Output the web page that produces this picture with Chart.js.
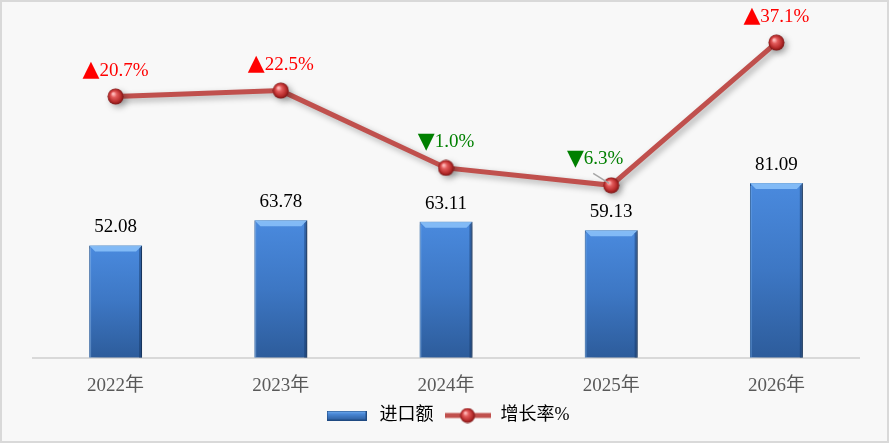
<!DOCTYPE html>
<html>
<head>
<meta charset="utf-8">
<script src="https://cdn.jsdelivr.net/npm/chart.js@4.4.1/dist/chart.umd.min.js"></script>
<style>
  html, body { margin: 0; padding: 0; background: #f8f8f8; }
  #wrap { width: 889px; height: 443px; }
</style>
</head>
<body>
<div id="wrap"><canvas id="chart" width="889" height="443"></canvas></div>
<script>
const years = ["2022年", "2023年", "2024年", "2025年", "2026年"];
const importValues = [52.08, 63.78, 63.11, 59.13, 81.09];
const growthRates = [20.7, 22.5, -1.0, -6.3, 37.1];
const seriesNames = ["进口额", "增长率%"];

const SERIF = '"Times New Roman", "Liberation Serif", "Noto Sans CJK SC", serif';
const LINE_RED = "#c0504d";

// little red ball used as the point marker
function drawSphere(c, cx, cy, r) {
  const g = c.createRadialGradient(cx - r * 0.3, cy - r * 0.35, r * 0.1, cx, cy, r);
  g.addColorStop(0, "#ffb8b8");
  g.addColorStop(0.3, "#e25b5b");
  g.addColorStop(0.75, "#b52a2a");
  g.addColorStop(1, "#7a1515");
  c.fillStyle = g;
  c.beginPath();
  c.arc(cx, cy, r, 0, Math.PI * 2);
  c.fill();
}

function makeSphere(d) {
  const cv = document.createElement("canvas");
  cv.width = d; cv.height = d;
  drawSphere(cv.getContext("2d"), d / 2, d / 2, d / 2 - 0.5);
  return cv;
}

function makeLegendBar() {
  const cv = document.createElement("canvas");
  cv.width = 40; cv.height = 10;
  const c = cv.getContext("2d");
  const g = c.createLinearGradient(0, 0, 0, 10);
  g.addColorStop(0, "#7db6f2");
  g.addColorStop(0.35, "#4a88d6");
  g.addColorStop(1, "#2c5c9c");
  c.fillStyle = g;
  c.fillRect(0, 0, 40, 10);
  c.strokeStyle = "#1f4a82";
  c.lineWidth = 1;
  c.strokeRect(0.5, 0.5, 39, 9);
  return cv;
}

function makeLegendLine() {
  const cv = document.createElement("canvas");
  cv.width = 46; cv.height = 16;
  const c = cv.getContext("2d");
  c.strokeStyle = LINE_RED;
  c.lineWidth = 5;
  c.beginPath();
  c.moveTo(0, 8); c.lineTo(46, 8);
  c.stroke();
  drawSphere(c, 23, 8, 7.5);
  return cv;
}

const sphere = makeSphere(17);
const legendBar = makeLegendBar();
const legendLine = makeLegendLine();

const backdrop = {
  id: "backdrop",
  beforeDraw(chart) {
    const c = chart.ctx;
    c.save();
    c.fillStyle = "#f8f8f8";
    c.fillRect(0, 0, chart.width, chart.height);
    c.strokeStyle = "#d9d9d9";
    c.lineWidth = 2;
    c.strokeRect(1, 1, chart.width - 2, chart.height - 2);
    c.restore();
  }
};

// drop shadows for bars and line, plus a bevel on top of the bars
const shading = {
  id: "shading",
  beforeDatasetDraw(chart, args) {
    const c = chart.ctx;
    c.save();
    if (args.index === 0) {
      c.shadowColor = "rgba(0,0,0,0.4)";
      c.shadowBlur = 9;
      c.shadowOffsetX = 6;
      c.shadowOffsetY = 1;
    } else {
      c.shadowColor = "rgba(0,0,0,0.3)";
      c.shadowBlur = 6;
      c.shadowOffsetX = 3;
      c.shadowOffsetY = 3;
    }
  },
  afterDatasetDraw(chart, args) {
    const c = chart.ctx;
    c.restore();
    if (args.index !== 0) return;
    c.save();
    args.meta.data.forEach((bar) => {
      const l = bar.x - bar.width / 2, r = bar.x + bar.width / 2;
      const t = bar.y, b = bar.base, bv = 6;
      c.fillStyle = "rgba(140,195,250,0.85)";
      c.beginPath();
      c.moveTo(l, t); c.lineTo(r, t); c.lineTo(r - bv, t + bv); c.lineTo(l + bv, t + bv);
      c.closePath(); c.fill();
      c.fillStyle = "rgba(20,50,95,0.45)";
      c.beginPath();
      c.moveTo(r, t); c.lineTo(r, b); c.lineTo(r - 3, b); c.lineTo(r - 3, t + 3);
      c.closePath(); c.fill();
      c.fillStyle = "rgba(120,175,235,0.35)";
      c.fillRect(l, t + 3, 2, b - t - 3);
    });
    c.restore();
  }
};

const valueLabels = {
  id: "valueLabels",
  afterDatasetsDraw(chart) {
    const c = chart.ctx;
    const numFont = "19px " + SERIF;
    const triFont = '22px "DejaVu Sans", sans-serif';
    c.save();
    c.textBaseline = "middle";
    c.textAlign = "center";
    c.font = numFont;
    c.fillStyle = "#000";
    chart.getDatasetMeta(0).data.forEach((bar, i) => {
      c.fillText(importValues[i].toFixed(2), bar.x, bar.y - 18);
    });
    c.textAlign = "left";
    const nudge = { 3: -16 };
    chart.getDatasetMeta(1).data.forEach((pt, i) => {
      const v = growthRates[i];
      const up = v >= 0;
      const dx = nudge[i] || 0;
      const lx = pt.x + dx, ly = pt.y - 26;
      if (dx) {
        c.strokeStyle = "#a6a6a6";
        c.lineWidth = 1.5;
        c.beginPath();
        c.moveTo(lx - 2, ly + 14);
        c.lineTo(pt.x - 2, pt.y - 2);
        c.stroke();
      }
      const tri = up ? "▲" : "▼";
      const num = Math.abs(v).toFixed(1) + "%";
      c.font = triFont;
      const tw = c.measureText(tri).width;
      c.font = numFont;
      const nw = c.measureText(num).width;
      const x0 = lx - (tw + nw) / 2;
      c.fillStyle = up ? "#ff0000" : "#008000";
      c.font = triFont;
      c.fillText(tri, x0, ly);
      c.font = numFont;
      c.fillText(num, x0 + tw, ly);
    });
    c.restore();
  }
};

new Chart(document.getElementById("chart"), {
  data: {
    labels: years,
    datasets: [
      {
        type: "bar",
        label: seriesNames[0],
        data: importValues,
        yAxisID: "y",
        order: 1,
        barPercentage: 0.32,
        categoryPercentage: 1,
        borderColor: "#1f4a82",
        borderWidth: 1,
        backgroundColor(ctx) {
          const chart = ctx.chart;
          if (!chart.chartArea || ctx.raw == null) return "#3f7bc8";
          const top = chart.scales.y.getPixelForValue(ctx.raw);
          const g = chart.ctx.createLinearGradient(0, top, 0, chart.chartArea.bottom);
          g.addColorStop(0, "#4a8ade");
          g.addColorStop(0.5, "#3d77c4");
          g.addColorStop(1, "#2d5c9b");
          return g;
        }
      },
      {
        type: "line",
        label: seriesNames[1],
        data: growthRates,
        yAxisID: "y2",
        order: 0,
        borderColor: LINE_RED,
        borderWidth: 5,
        tension: 0,
        pointStyle: sphere,
        pointRadius: 8,
        pointHoverRadius: 8
      }
    ]
  },
  options: {
    responsive: false,
    animation: false,
    devicePixelRatio: 1,
    layout: { padding: { top: 10, left: 33, right: 30, bottom: 8.5 } },
    scales: {
      x: {
        grid: { display: false, drawTicks: false },
        border: { display: true, color: "#d9d9d9", width: 2 },
        ticks: { color: "#595959", font: { family: SERIF, size: 19 }, padding: 16.5, maxRotation: 0, autoSkip: false },
        afterFit(scale) { scale.height = 38.8; }
      },
      y: { display: false, min: 0, max: 160 },
      y2: { display: false, position: "right", min: -58.7, max: 46.1 }
    },
    plugins: {
      tooltip: { enabled: false },
      legend: {
        position: "bottom",
        labels: {
          usePointStyle: true,
          pointStyleWidth: 48,
          padding: 10,
          color: "#000",
          font: { family: SERIF, size: 18 },
          generateLabels: () => [
            { text: seriesNames[0], pointStyle: legendBar, fontColor: "#000", lineWidth: 0, datasetIndex: 0 },
            { text: seriesNames[1], pointStyle: legendLine, fontColor: "#000", lineWidth: 0, datasetIndex: 1 }
          ]
        }
      }
    }
  },
  plugins: [backdrop, shading, valueLabels]
});
</script>
</body>
</html>
